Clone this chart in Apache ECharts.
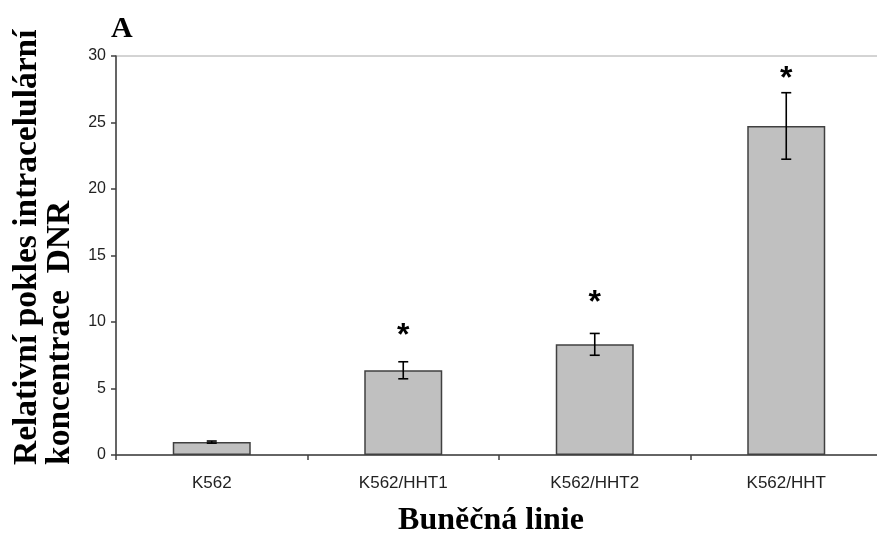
<!DOCTYPE html>
<html>
<head>
<meta charset="utf-8">
<script src="https://cdn.jsdelivr.net/npm/echarts@6/dist/echarts.min.js"></script>
<style>html,body{margin:0;padding:0;background:#fff}#c{width:877px;height:534px}</style>
</head>
<body>
<div id="c"></div>
<script>
const categories = ['K562', 'K562/HHT1', 'K562/HHT2', 'K562/HHT'];
const means = [0.97, 6.37, 8.32, 24.74];
const errors = [0.08, 0.64, 0.82, 2.5];
const starY = [null, 9.47, 11.95, 28.8];
const yTicks = [0, 5, 10, 15, 20, 25, 30];

const serif = '"Liberation Serif", "Times New Roman", serif';
const sans = '"Liberation Sans", Arial, sans-serif';

const chart = echarts.init(document.getElementById('c'), null, {renderer: 'canvas'});
chart.setOption({
  animation: false,
  backgroundColor: '#fff',
  grid: {left: 116, width: 766, top: 56, height: 399, outerBoundsMode: 'none', containLabel: false,
    show: true, borderColor: '#a8a8a8', borderWidth: 1, backgroundColor: 'transparent'},
  xAxis: {
    type: 'category', data: categories, boundaryGap: true,
    axisLine: {lineStyle: {color: '#404040', width: 1.5}},
    axisTick: {show: true, length: 5, lineStyle: {color: '#404040', width: 1.5}},
    axisLabel: {fontSize: 17, color: '#222', fontFamily: sans, margin: 20},
    name: 'Buněčná linie', nameLocation: 'middle', nameGap: 50,
    nameTextStyle: {fontSize: 32, fontWeight: 'bold', fontFamily: serif, color: '#000', padding: [0, 16, 0, 0]}
  },
  yAxis: {
    type: 'value', min: yTicks[0], max: yTicks[yTicks.length - 1], interval: 5,
    axisLine: {show: true, lineStyle: {color: '#404040', width: 1.5}},
    axisTick: {show: true, length: 5, lineStyle: {color: '#404040', width: 1.5}},
    axisLabel: {fontSize: 16, color: '#222', fontFamily: sans, margin: 10},
    splitLine: {show: false}
  },
  graphic: [
    {type: 'text', left: 111, top: 14, style: {text: 'A', font: 'bold 30px ' + serif, fill: '#000'}},
    {type: 'text', x: 27, y: 465, rotation: Math.PI / 2,
      style: {text: 'Relativní pokles intracelulární', font: 'bold 33.5px ' + serif, fill: '#000', textAlign: 'left', textVerticalAlign: 'middle'}},
    {type: 'text', x: 60, y: 465, rotation: Math.PI / 2,
      style: {text: 'koncentrace  DNR', font: 'bold 33.5px ' + serif, fill: '#000', textAlign: 'left', textVerticalAlign: 'middle'}}
  ],
  series: [
    {
      type: 'bar', data: means, barWidth: 78,
      itemStyle: {color: '#c0c0c0', borderColor: '#404040', borderWidth: 1.5}
    },
    {
      type: 'custom',
      data: means.map((m, i) => [i, m - errors[i], m + errors[i]]),
      renderItem: function (params, api) {
        const lo = api.coord([api.value(0), api.value(1)]);
        const hi = api.coord([api.value(0), api.value(2)]);
        const w = 5;
        const st = {stroke: '#000', lineWidth: 1.6};
        return {type: 'group', children: [
          {type: 'line', shape: {x1: hi[0], y1: hi[1], x2: lo[0], y2: lo[1]}, style: st},
          {type: 'line', shape: {x1: hi[0] - w, y1: hi[1], x2: hi[0] + w, y2: hi[1]}, style: st},
          {type: 'line', shape: {x1: lo[0] - w, y1: lo[1], x2: lo[0] + w, y2: lo[1]}, style: st}
        ]};
      },
      z: 5
    },
    {
      type: 'custom',
      data: starY.map((v, i) => [i, v]).filter(d => d[1] !== null),
      renderItem: function (params, api) {
        const p = api.coord([api.value(0), api.value(1)]);
        return {type: 'text', x: p[0], y: p[1] + 7,
          style: {text: '*', font: 'bold 32px ' + sans, fill: '#000', textAlign: 'center', textVerticalAlign: 'middle'}};
      },
      z: 6
    }
  ]
});
</script>
</body>
</html>
